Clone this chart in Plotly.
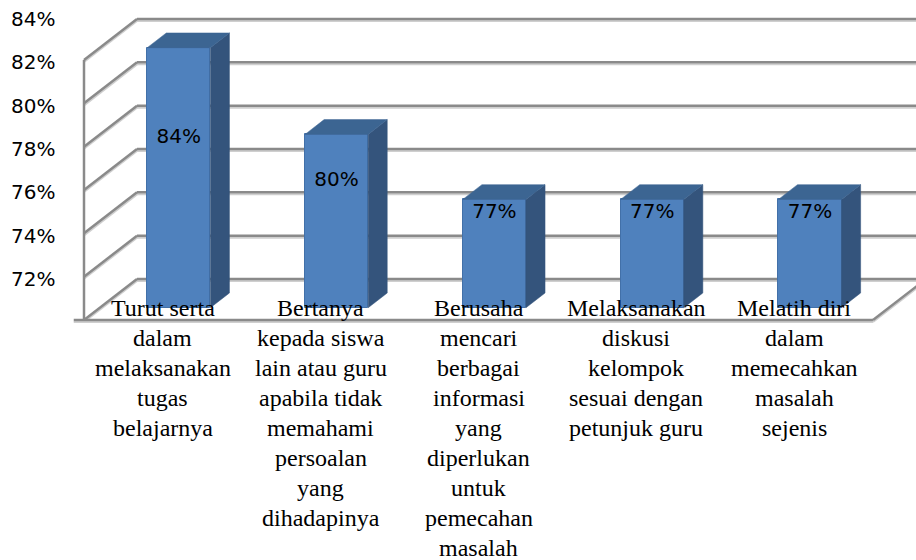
import plotly.graph_objects as go

# ---- data ----
categories = [
    ["Turut serta", "dalam", "melaksanakan", "tugas", "belajarnya"],
    ["Bertanya", "kepada siswa", "lain atau guru", "apabila tidak", "memahami",
     "persoalan", "yang", "dihadapinya"],
    ["Berusaha", "mencari", "berbagai", "informasi", "yang", "diperlukan",
     "untuk", "pemecahan", "masalah"],
    ["Melaksanakan", "diskusi", "kelompok", "sesuai dengan", "petunjuk guru"],
    ["Melatih diri", "dalam", "memecahkan", "masalah", "sejenis"],
]
values = [84, 80, 77, 77, 77]
value_labels = ["84%", "80%", "77%", "77%", "77%"]
tick_values = [72, 74, 76, 78, 80, 82, 84]
tick_labels = ["72%", "74%", "76%", "78%", "80%", "82%", "84%"]

# ---- pseudo-3D geometry (in axis units) ----
Y_MIN, Y_MAX = 72, 84
PX_X = 157.8         # pixels per category unit
PX_Y = 21.67         # pixels per percent
DX = 53 / PX_X       # horizontal shift per unit depth (category units)
DY = 41 / PX_Y       # vertical shift per unit depth (% units)
D_FRONT, D_BACK = 0.70, 0.34
BAR_W = 0.40
N = len(values)

def proj(x, y, d):
    return x - d * DX, y - d * DY

GRID = "#8a8a8a"
SHADOW = "#cfcfcf"
FRONT = "#4f81bd"
SIDE = "#34547c"
TOP = "#3c6592"

fig = go.Figure()
shapes = []

def line(p0, p1, color=GRID, width=2.5):
    shapes.append(dict(type="line", xref="x", yref="y", layer="below",
                       x0=p0[0], y0=p0[1], x1=p1[0], y1=p1[1],
                       line=dict(color=color, width=width)))

def gline(p0, p1):
    off = 2 / PX_Y
    line((p0[0], p0[1] - off), (p1[0], p1[1] - off), SHADOW, 2)
    line(p0, p1)

# back wall + left wall grid
for v in tick_values:
    gline(proj(0, v, 0), proj(N, v, 0))
    gline(proj(0, v, 0), proj(0, v, 1))
# left wall front edge
gline(proj(0, Y_MIN, 1), proj(0, Y_MAX, 1))
# floor front and right edges
fl0 = proj(0, Y_MIN, 1)
gline((fl0[0] - 0.065, fl0[1]), proj(N, Y_MIN, 1))
gline(proj(N, Y_MIN, 1), proj(N, Y_MIN, 0))

# bar front faces
xs_front = [proj(i + 0.5, 0, D_FRONT)[0] for i in range(N)]
base_front = proj(0, Y_MIN, D_FRONT)[1]
fig.add_trace(go.Bar(
    x=xs_front, y=[v - Y_MIN for v in values], base=base_front,
    width=BAR_W, marker=dict(color=FRONT, line=dict(color="#4270a8", width=1)),
    hoverinfo="skip", showlegend=False))

# side & top faces
for i, v in enumerate(values):
    xl, xr = i + 0.5 - BAR_W / 2, i + 0.5 + BAR_W / 2
    side = [proj(xr, Y_MIN, D_FRONT), proj(xr, v, D_FRONT),
            proj(xr, v, D_BACK), proj(xr, Y_MIN, D_BACK)]
    top = [proj(xl, v, D_FRONT), proj(xr, v, D_FRONT),
           proj(xr, v, D_BACK), proj(xl, v, D_BACK)]
    for poly, col in ((side, SIDE), (top, TOP)):
        fig.add_trace(go.Scatter(
            x=[p[0] for p in poly] + [poly[0][0]],
            y=[p[1] for p in poly] + [poly[0][1]],
            mode="lines", fill="toself", fillcolor=col,
            line=dict(color=col, width=0.5),
            hoverinfo="skip", showlegend=False))

# data labels
LABEL_BASE = 75.7
fig.add_trace(go.Scatter(
    x=xs_front,
    y=[proj(0, (v + LABEL_BASE) / 2, D_FRONT)[1] for v in values],
    mode="text", text=value_labels,
    textfont=dict(family="DejaVu Sans", size=20, color="black"),
    hoverinfo="skip", showlegend=False))

annotations = []
# y tick labels
for v, t in zip(tick_values, tick_labels):
    annotations.append(dict(x=-0.507, y=v, xref="x", yref="y", text=t,
                            showarrow=False, xanchor="right", yanchor="middle",
                            font=dict(family="DejaVu Sans", size=20, color="black")))
# category labels (one annotation per line)
FIRST_LINE = Y_MAX - (308 - 19) / PX_Y
LINE_STEP = 30 / PX_Y
for i, lines in enumerate(categories):
    xc = proj(i + 0.5, 0, 1)[0]
    for k, txt in enumerate(lines):
        annotations.append(dict(x=xc, y=FIRST_LINE - k * LINE_STEP, xref="x", yref="y",
                                text=txt, showarrow=False, xanchor="center",
                                yanchor="middle",
                                font=dict(family="Liberation Serif", size=24, color="black")))

fig.update_layout(
    width=916, height=560,
    margin=dict(l=0, r=0, t=0, b=0),
    paper_bgcolor="white", plot_bgcolor="white",
    xaxis=dict(visible=False, range=[-137 / PX_X, 779 / PX_X]),
    yaxis=dict(visible=False, range=[84 - 541 / PX_Y, 84 + 19 / PX_Y]),
    shapes=shapes, annotations=annotations, bargap=0,
)

fig.write_html("out.html", config={"displayModeBar": False},
               post_script="document.body.style.margin='0';document.body.style.overflow='hidden';")
